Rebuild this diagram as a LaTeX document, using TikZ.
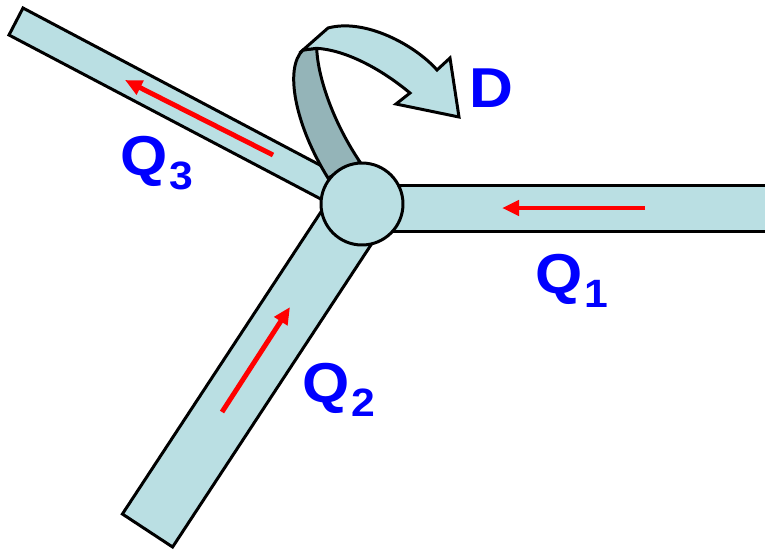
\documentclass[tikz,border=0pt]{standalone}
\usepackage{fontspec}
\setmainfont{Liberation Sans}
\newfontfamily\labelfont[FakeStretch=1.08]{Liberation Sans}
\usetikzlibrary{arrows.meta}
\definecolor{pipecol}{RGB}{186,223,227}
\definecolor{backcol}{RGB}{148,180,184}
\newcommand{\qsub}[1]{\kern1pt\raisebox{-8.5pt}{\fontsize{22.5}{22.5}\selectfont #1}}

\begin{document}
\begin{tikzpicture}[x=0.02cm, y=-0.02cm,
			pipe_style/.style={draw=black, line width=1.7pt, fill=pipecol, line join=miter},
			flow_style/.style={red, line width=2.8pt, -{Triangle[length=9.7pt, width=8.5pt]}},
			label_style/.style={blue, font=\labelfont\fontsize{32}{32}\selectfont\bfseries, inner sep=0pt, anchor=base west}]
			
			\useasboundingbox (0,0) rectangle (765,549);
			
			% pipes
			\draw[pipe_style] (23,8) -- (369,191) -- (355,217) -- (9,35) -- cycle;
			\draw[pipe_style] (337,187.5) -- (387,220.5) -- (172.6,547) -- (122.4,514) -- cycle;
			\draw[pipe_style] (362,185) -- (770,185) -- (770,231) -- (362,231) -- cycle;
			
			% twisted ribbon D
			\draw[pipe_style, fill=backcol] (303,50) .. controls (284,68) and (295,125) .. (328,178)
				-- (360,162) .. controls (335,125) and (318,80) .. (316.7,48.3) -- cycle;
			\draw[pipe_style] (303,50) -- (328,28) .. controls (365,18) and (415,45) .. (437,70)
				-- (450,58) -- (459,117) -- (396,104) -- (410,93)
				.. controls (380,68) and (345,50) .. (316.7,48.3) -- cycle;
			
			% junction
			\node[circle, draw=black, line width=1.7pt, fill=pipecol, minimum size=1.64cm, inner sep=0pt] (J) at (362,204) {};
			
			% flows
			\coordinate (t1) at (645,208); \coordinate (h1) at (502,208);
			\coordinate (t2) at (222,412); \coordinate (h2) at (290,307);
			\coordinate (t3) at (273,155); \coordinate (h3) at (125,80);
			\foreach \x/\y in {t1/h1,t2/h2,t3/h3}{
				\draw[flow_style] (\x) -- (\y);}
			
			\node[label_style] (q1) at (535,293) {Q\qsub{1}};
			\node[label_style] (q2) at (302,402) {Q\qsub{2}};
			\node[label_style] (q3) at (120,175) {Q\qsub{3}};
			\node[label_style] (d) at (469,107) {D};
		\end{tikzpicture}
\end{document}
